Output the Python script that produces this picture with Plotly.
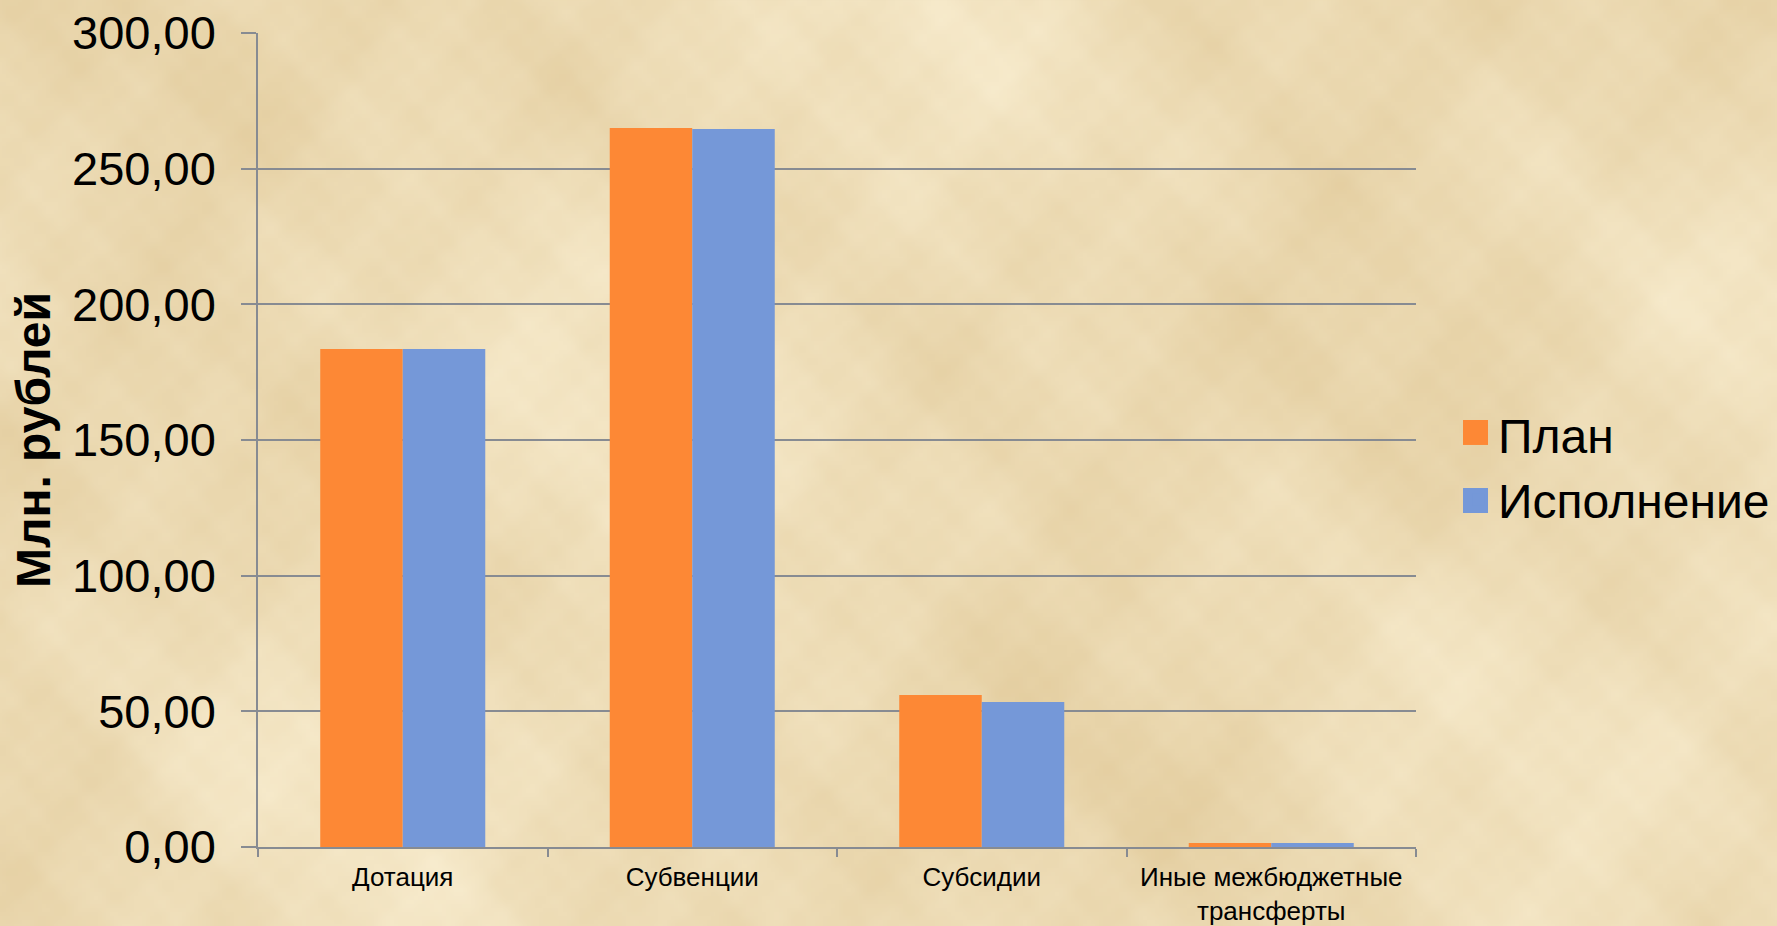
import base64, struct, zlib
import numpy as np
import plotly.graph_objects as go

categories = ["Дотация", "Субвенции", "Субсидии", "Иные межбюджетные<br>трансферты"]
plan = [183.5, 265.0, 56.0, 1.5]
execution = [183.5, 264.6, 53.4, 1.5]
series_names = ["План", "Исполнение"]
series_colors = ["#FD8835", "#7598D8"]
y_title = "Млн. рублей"

W, H = 1777, 926
FONT = "Liberation Sans, Arial, sans-serif"


def parchment_png(w=444, h=232):
    yy, xx = np.mgrid[0:h, 0:w].astype(float)
    t = np.zeros((h, w))
    waves = [(0.021, 0.013, 0.0, 1.0), (0.043, -0.031, 1.3, 0.7), (-0.017, 0.052, 2.1, 0.6),
             (0.089, 0.061, 0.4, 0.45), (-0.073, 0.097, 3.3, 0.4), (0.151, -0.119, 1.7, 0.3),
             (0.203, 0.173, 0.9, 0.25), (-0.261, 0.229, 2.6, 0.2), (0.47, 0.31, 0.2, 0.15),
             (-0.39, 0.53, 1.1, 0.15), (0.83, -0.61, 2.2, 0.1), (-0.71, -0.97, 0.7, 0.1)]
    for fx, fy, ph, a in waves:
        t += a * np.sin(fx * xx + fy * yy + ph)
    t = (t - t.min()) / (t.max() - t.min())
    light = np.array([248, 236, 206], float)
    dark = np.array([228, 206, 160], float)
    img = light[None, None, :] * (1 - t[..., None]) + dark[None, None, :] * t[..., None]
    img = img.clip(0, 255).astype(np.uint8)
    raw = b"".join(b"\x00" + img[r].tobytes() for r in range(h))

    def chunk(tag, data):
        c = tag + data
        return struct.pack(">I", len(data)) + c + struct.pack(">I", zlib.crc32(c) & 0xffffffff)

    png = b"\x89PNG\r\n\x1a\n" + chunk(b"IHDR", struct.pack(">IIBBBBB", w, h, 8, 2, 0, 0, 0)) \
        + chunk(b"IDAT", zlib.compress(raw, 9)) + chunk(b"IEND", b"")
    return "data:image/png;base64," + base64.b64encode(png).decode()


fig = go.Figure()
fig.add_trace(go.Bar(name=series_names[0], x=categories, y=plan, marker_color=series_colors[0],
                     marker_line_width=0))
fig.add_trace(go.Bar(name=series_names[1], x=categories, y=execution, marker_color=series_colors[1],
                     marker_line_width=0))

# enlarged legend swatches (sit under the legend's own small symbols)
swatch_y = [(0.4939, 0.5246), (0.4103, 0.4410)]
shapes = [dict(type="rect", xref="paper", yref="paper", x0=1.0406, x1=1.0622, y0=y0, y1=y1,
               fillcolor=c, line_width=0, layer="above")
          for (y0, y1), c in zip(swatch_y, series_colors)]

fig.update_layout(
    width=W, height=H,
    margin=dict(l=258, r=361, t=33, b=79, autoexpand=False),
    paper_bgcolor="#EEDDB4",
    plot_bgcolor="rgba(0,0,0,0)",
    separators=", ",
    barmode="group",
    bargap=0.43,
    bargroupgap=0,
    font=dict(family=FONT, color="#000000"),
    images=[dict(source=parchment_png(), xref="paper", yref="paper", x=-0.2228, y=1.0405,
                 sizex=1777 / 1158, sizey=926 / 814, xanchor="left", yanchor="top",
                 sizing="stretch", layer="below")],
    shapes=shapes,
    legend=dict(x=1.0363, y=0.467, xanchor="left", yanchor="middle",
                font=dict(size=48, family=FONT), bgcolor="rgba(0,0,0,0)",
                itemwidth=30, tracegroupgap=0),
    showlegend=True,
)
fig.update_yaxes(
    range=[0, 300], dtick=50, tickformat=".2f", automargin=False,
    showgrid=True, gridcolor="#878B92", gridwidth=1.5,
    showline=True, linecolor="#878B92", linewidth=1.5,
    ticks="outside", ticklen=15, tickcolor="#878B92", tickwidth=1.5,
    tickfont=dict(size=47, family=FONT), ticklabelstandoff=16,
    zeroline=False,
    title=dict(text=y_title, font=dict(size=48, family=FONT, weight="bold"), standoff=6),
)
fig.update_xaxes(
    automargin=False,
    showline=True, linecolor="#878B92", linewidth=1.5,
    ticks="outside", ticklen=8, tickcolor="#878B92", tickwidth=1.5, tickson="boundaries",
    tickfont=dict(size=26, family=FONT), ticklabelstandoff=6,
)

fig.write_html("out.html", config={"displayModeBar": False},
               post_script="document.body.style.margin='0';")
